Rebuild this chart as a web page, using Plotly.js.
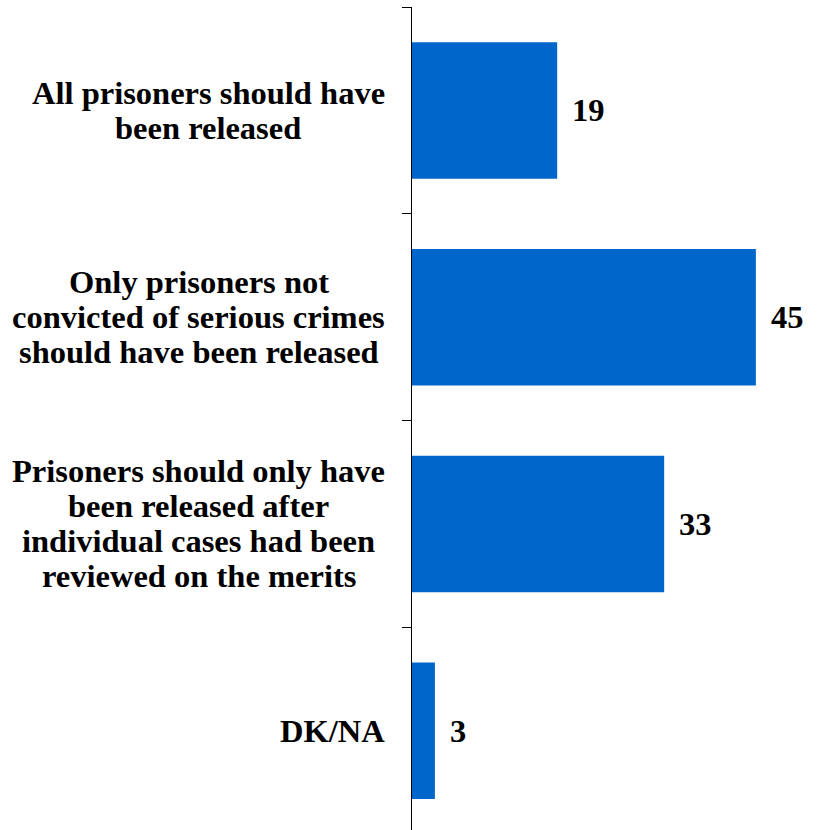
<!DOCTYPE html>
<html>
<head>
<meta charset="utf-8">
<script src="https://cdn.plot.ly/plotly-3.0.1.min.js"></script>
<style>html,body{margin:0;padding:0;background:#fff;}</style>
</head>
<body>
<div id="chart" style="width:817px;height:830px;"></div>
<script>
const categories = [
  "All prisoners should have<br>been released",
  "Only prisoners not<br>convicted of serious crimes<br>should have been released",
  "Prisoners should only have<br>been released after<br>individual cases had been<br>reviewed on the merits",
  "DK/NA"
];
const values = [19, 45, 33, 3];
const valueLabels = ["19", "45", "33", "3"];

const fontFam = "Liberation Serif, Times New Roman, Times, serif";
const fontSize = 32.5;
const lineGap = 35;
const labelRight = 385;   // px, right edge of label blocks
const plotLeft = 412;     // px, left margin

const trace = {
  type: "bar",
  orientation: "h",
  y: categories,
  x: values,
  width: 0.66,
  marker: {color: "#0066CC"},
  hoverinfo: "skip"
};

const valueAnn = values.map((v, i) => ({
  x: v, y: categories[i], xref: "x", yref: "y",
  text: "<b>" + valueLabels[i] + "</b>",
  showarrow: false, xanchor: "left", yanchor: "middle", xshift: 13,
  font: {family: fontFam, size: fontSize, color: "#000"}
}));

// measure text widths to center each multi-line block with a common right edge
const cv = document.createElement("canvas").getContext("2d");
cv.font = "bold " + fontSize + "px 'Liberation Serif'";

const catAnn = [];
categories.forEach((c) => {
  const lines = c.split("<br>");
  const maxW = Math.max.apply(null, lines.map(l => cv.measureText(l).width));
  const center = labelRight - maxW / 2;
  const n = lines.length;
  lines.forEach((l, j) => {
    catAnn.push({
      x: 0, y: c, xref: "paper", yref: "y",
      text: "<b>" + l + "</b>",
      showarrow: false, xanchor: "center", yanchor: "middle",
      xshift: center - plotLeft,
      yshift: ((n - 1) / 2 - j) * lineGap,
      font: {family: fontFam, size: fontSize, color: "#000"}
    });
  });
});

const layout = {
  width: 817, height: 830,
  margin: {l: plotLeft, r: 0, t: 7, b: 0},
  paper_bgcolor: "#fff", plot_bgcolor: "#fff",
  showlegend: false,
  xaxis: {range: [0, 53], visible: false, fixedrange: true},
  yaxis: {
    type: "category",
    range: [3.48, -0.5],
    showline: true, linecolor: "#000", linewidth: 1,
    ticks: "outside", tickson: "boundaries", ticklen: 9, tickcolor: "#000", tickwidth: 1,
    showticklabels: false,
    showgrid: false, zeroline: false
  },
  annotations: valueAnn.concat(catAnn)
};

Plotly.newPlot("chart", [trace], layout, {displayModeBar: false, staticPlot: true});
</script>
</body>
</html>
